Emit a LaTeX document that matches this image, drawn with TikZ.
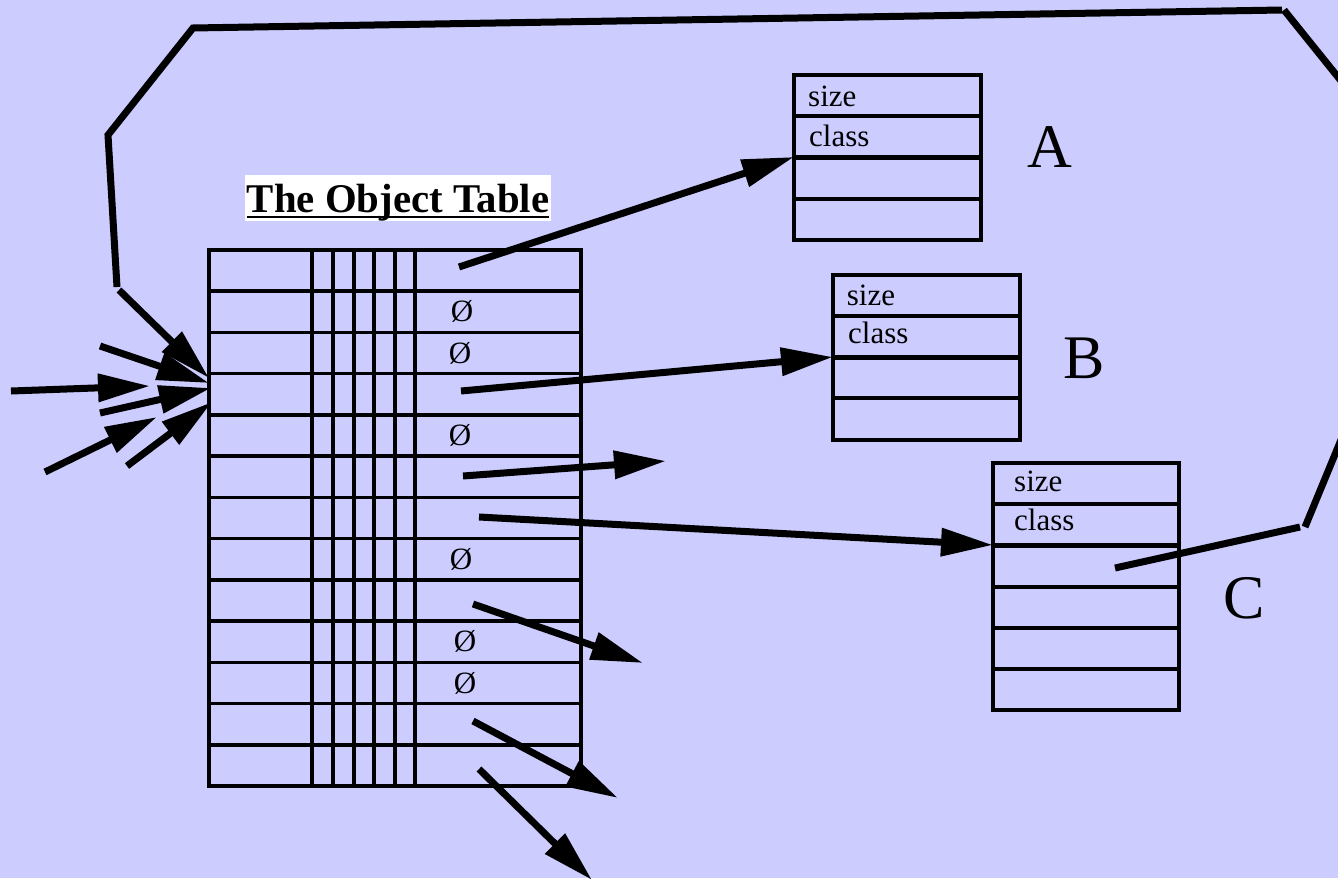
\documentclass[tikz,border=0pt]{standalone}
\usepackage{fontspec}
\setmainfont{Liberation Serif}
\usetikzlibrary{arrows.meta}
\definecolor{bg}{RGB}{204,204,255}
\tikzset{
  gridline/.style={line width=3.5pt},
  sepline/.style={line width=5pt},
  ptr/.style={line width=7pt, -{Triangle[length=52pt,width=27pt]}},
  loopline/.style={line width=7pt, line join=miter},
  cell/.style={anchor=base west, inner sep=0pt, font=\fontsize{31}{36}\selectfont},
  letter/.style={anchor=base west, inner sep=0pt, font=\fontsize{62}{70}\selectfont},
  nul/.style={inner sep=0pt, font=\fontsize{31}{36}\selectfont},
}
\begin{document}
\begin{tikzpicture}[x=1pt,y=-1pt]
\fill[bg] (0,0) rectangle (1338,878);
\useasboundingbox (0,0) rectangle (1338,878);
\clip (0,0) rectangle (1338,878);

% ---- title
\node[fill=white, inner sep=0pt, minimum width=306pt, minimum height=46pt] (titlebox) at (398,198) {};
\node[anchor=base, inner sep=0pt, font=\fontsize{40.8}{48}\selectfont\bfseries] (title) at (398,212) {The Object Table};
\draw[line width=2.5pt] ([yshift=-5pt]title.base west) -- ([yshift=-5pt]title.base east);

% ---- object table
\draw[gridline] (209,250) rectangle (581,786);
\foreach \i in {1,...,12} {
  \draw[gridline] (209,{250+\i*41.23}) -- (581,{250+\i*41.23});
}
\foreach \x in {312,333,354,374,395,415} {
  \draw[gridline] (\x,250) -- (\x,786);
}
\node[nul] (n1) at (462,311.6) {Ø};
\node[nul] (n2) at (460,352.9) {Ø};
\node[nul] (n3) at (460,435.5) {Ø};
\node[nul] (n4) at (461,559.8) {Ø};
\node[nul] (n5) at (465,641.7) {Ø};
\node[nul] (n6) at (465,683) {Ø};

% ---- object A
\draw[gridline] (794,75) rectangle (981,240);
\draw[gridline] (794,116) -- (981,116);
\draw[sepline] (794,157) -- (981,157);
\draw[gridline] (794,199) -- (981,199);
\node[cell] (Asize) at (808,106.7) {size};
\node[cell] (Aclass) at (809,146) {class};
\node[letter] (Alab) at (1027,167) {A};
\coordinate (Aptr) at (794,157);

% ---- object B
\draw[gridline] (833,275) rectangle (1020,440);
\draw[gridline] (833,316) -- (1020,316);
\draw[sepline] (833,357) -- (1020,357);
\draw[gridline] (833,398) -- (1020,398);
\node[cell] (Bsize) at (846.7,305.7) {size};
\node[cell] (Bclass) at (848,343) {class};
\node[letter] (Blab) at (1063,378) {B};
\coordinate (Bptr) at (833,357);

% ---- object C
\draw[gridline] (993,463) rectangle (1179,710);
\draw[gridline] (993,504) -- (1179,504);
\draw[sepline] (993,545) -- (1179,545);
\foreach \y in {587,628,669} { \draw[gridline] (993,\y) -- (1179,\y); }
\node[cell] (Csize) at (1014,491.7) {size};
\node[cell] (Cclass) at (1014,530) {class};
\node[letter] (Clab) at (1223,618) {C};
\coordinate (Cptr) at (993,545);

% ---- pointers from the table
\coordinate (tA) at (459,267);
\coordinate (tB) at (461,391);
\coordinate (t6) at (463,476);  \coordinate (e6) at (666,461);
\coordinate (tC) at (479,517);
\coordinate (t9) at (473,604);  \coordinate (e9) at (643,663);
\coordinate (t12) at (473,721); \coordinate (e12) at (618,798);
\coordinate (t13) at (479,769); \coordinate (e13) at (592,880);
\draw[ptr] (tA) -- (Aptr);
\draw[ptr] (tB) -- (Bptr);
\draw[ptr] (t6) -- (e6);
\draw[ptr] (tC) -- (Cptr);
\draw[ptr] (t9) -- (e9);
\draw[ptr] (t12) -- (e12);
\draw[ptr] (t13) -- (e13);

% ---- loop from C back to the table
\coordinate (c0) at (1115,568);
\coordinate (c1) at (1300,527);
\coordinate (c2) at (1305,527);
\coordinate (c3) at (1350,418);
\coordinate (c4) at (1350,92);
\coordinate (c5) at (1284,10);
\coordinate (c6) at (1282,10);
\coordinate (c7) at (193,28);
\coordinate (c8) at (108,135);
\coordinate (c9) at (117,287);
\coordinate (c10) at (119,290);
\coordinate (hit) at (209,378);
\draw[loopline] (c0) -- (c1);
\draw[loopline] (c2) -- (c3);
\draw[loopline] (c4) -- (c5);
\draw[loopline] (c6) -- (c7) -- (c8) -- (c9);
\draw[ptr] (c10) -- (hit);

% ---- other incoming references
\coordinate (s1) at (11,391);  \coordinate (h1) at (150,386);
\coordinate (s2) at (100,346); \coordinate (h2) at (209,383);
\coordinate (s3) at (100,413); \coordinate (h3) at (211,388);
\coordinate (s4) at (45,472);  \coordinate (h4) at (157,417);
\coordinate (s5) at (127,466); \coordinate (h5) at (212,402);
\draw[ptr] (s1) -- (h1);
\draw[ptr] (s2) -- (h2);
\draw[ptr] (s3) -- (h3);
\draw[ptr] (s4) -- (h4);
\draw[ptr] (s5) -- (h5);
\end{tikzpicture}
\end{document}
